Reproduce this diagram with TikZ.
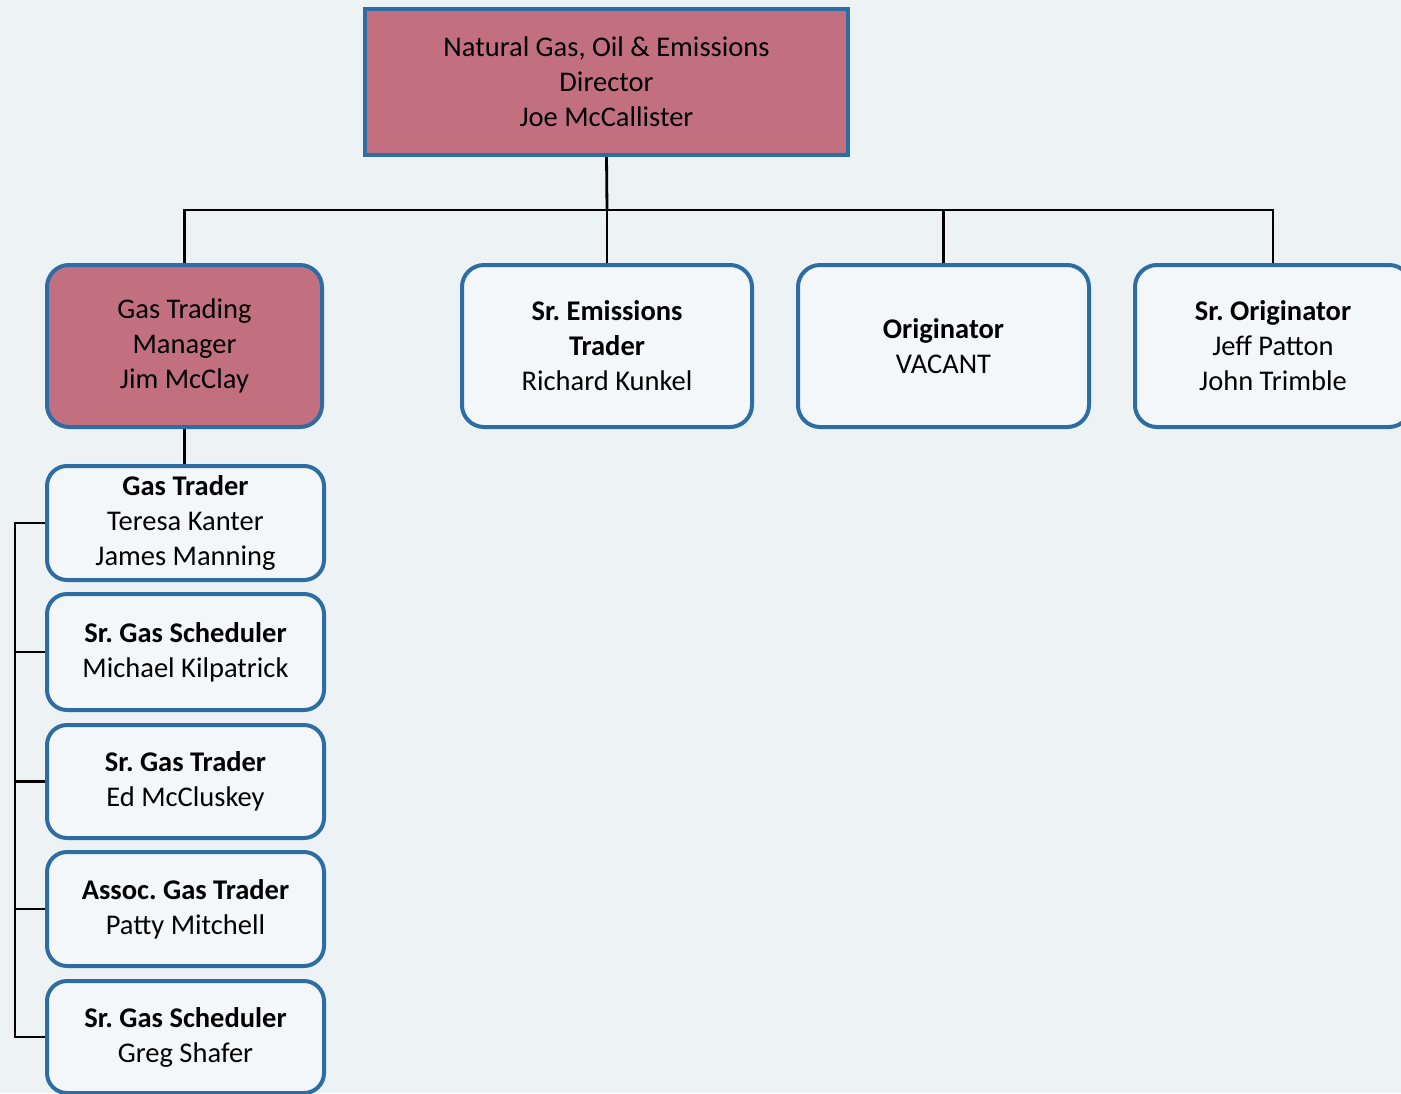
\documentclass[tikz,border=0pt]{standalone}
\usepackage{fontspec}
\setmainfont{Carlito}
\usetikzlibrary{backgrounds}
\definecolor{bgc}{HTML}{EDF2F4}
\definecolor{boxfill}{HTML}{F4F7F9}
\definecolor{pinkfill}{HTML}{C2707F}
\definecolor{bord}{HTML}{2E6CA4}
\begin{document}
\frenchspacing
\begin{tikzpicture}[x=1pt,y=-1pt,
  box/.style={draw=bord, line width=4pt, fill=boxfill, align=center,
    font=\fontsize{28.5}{35}\selectfont\frenchspacing, rounded corners=22pt,
    inner sep=0pt, outer sep=0pt},
  pinkbox/.style={box, fill=pinkfill},
  topbox/.style={box, fill=pinkfill, rounded corners=0pt, minimum width=483pt, minimum height=146pt},
  rowbox/.style={minimum width=290pt, minimum height=162pt},
  subbox/.style={box, rounded corners=20pt, minimum width=277pt},
  conn/.style={draw=black, line width=2.8pt}]
\useasboundingbox (0,0) rectangle (1401,1093);

\node[topbox] (dir) at (606.5,82) {Natural Gas, Oil \& Emissions\\Director\\Joe McCallister};

\node[pinkbox, rowbox, minimum width=275pt] (gtm) at (184.5,346) {Gas Trading\\Manager\\Jim McClay};
\node[box, rowbox] (emi) at (607,346) {\textbf{Sr. Emissions}\\\textbf{Trader}\\Richard Kunkel};
\node[box, rowbox, minimum width=291pt] (ori) at (943.5,346) {\textbf{Originator}\\VACANT};
\node[box, rowbox, minimum width=276pt] (sro) at (1273,346) {\textbf{Sr. Originator}\\Jeff Patton\\John Trimble};

\node[subbox, minimum height=114pt] (gt) at (185.5,523) {\textbf{Gas Trader}\\Teresa Kanter\\James Manning};
\node[subbox, minimum height=116pt] (sgs) at (185.5,652) {\textbf{Sr. Gas Scheduler}\\Michael Kilpatrick};
\node[subbox, minimum height=113pt] (sgt) at (185.5,781.5) {\textbf{Sr. Gas Trader}\\Ed McCluskey};
\node[subbox, minimum height=114pt] (agt) at (185.5,909) {\textbf{Assoc. Gas Trader}\\Patty Mitchell};
\node[subbox, minimum height=112pt] (sgs2) at (185.5,1037) {\textbf{Sr. Gas Scheduler}\\Greg Shafer};

\coordinate (bus) at (607,210);

\begin{scope}[on background layer]
  \fill[bgc] (0,0) rectangle (1401,1093);
  \draw[conn] (dir.south) -- (bus);
  \draw[conn] (gtm.north) |- (bus) -| (sro.north);
  \draw[conn] (emi.north) -- (bus);
  \draw[conn] (ori.north) -- (ori.north |- bus);
  \draw[conn] (gtm.south) -- (gtm.south |- gt.north);
  \draw[conn] (gt.west) -- ++(-32,0) coordinate (s1) -- (s1 |- sgs2.west) -- (sgs2.west);
  \draw[conn] (sgs.west) -- (sgs.west -| s1);
  \draw[conn] (sgt.west) -- (sgt.west -| s1);
  \draw[conn] (agt.west) -- (agt.west -| s1);
\end{scope}
\end{tikzpicture}
\end{document}
